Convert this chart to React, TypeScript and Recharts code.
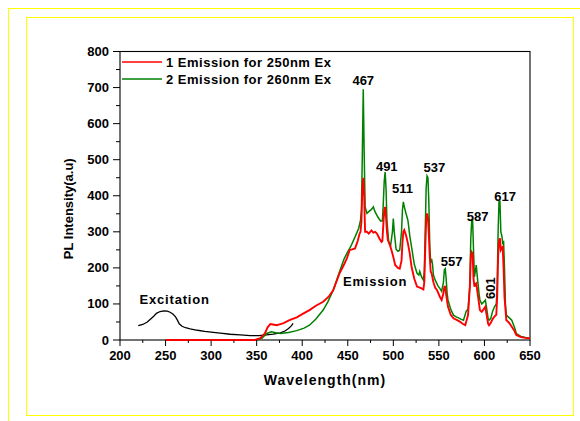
import React from 'react';
import { LineChart, Line, XAxis, YAxis, Legend, ReferenceDot } from 'recharts';

// ---- data ----
const excitationWl = [220, 225, 230, 233, 237, 240, 244, 248, 252, 255, 258, 261, 263, 265, 268, 272, 277, 285, 293, 300, 310, 321, 332, 343, 352, 361, 368, 376, 381, 385, 388, 390];
const excitationI = [40, 43, 50, 57, 66, 74, 79, 81, 80, 77, 72, 64, 55, 45, 38, 34, 31, 27, 24, 22, 19, 16, 14, 12, 12, 14, 16, 20, 25, 32, 39, 46];

const em250Wl = [250, 348, 354, 359, 362, 365, 368, 372, 376, 379, 386, 394, 401, 408, 415, 423, 429, 434, 441, 446, 449, 452, 458, 461, 463, 464, 465, 466, 467, 468, 469, 471, 473, 476, 478, 480, 482, 485, 487, 488, 489, 490, 491, 492, 493, 494, 496, 498, 500, 502, 505, 507, 509, 510, 511, 512, 514, 516, 518, 520, 523, 526, 529, 531, 533, 534, 535, 536, 537, 538, 539, 540, 541, 542, 544, 546, 548, 551, 553, 555, 556, 557, 558, 560, 563, 566, 570, 573, 576, 579, 581, 582, 584, 585, 586, 587, 588, 589, 590, 591, 593, 595, 597, 599, 601, 602, 604, 605, 607, 609, 611, 613, 614, 615, 616, 617, 618, 619, 620, 621, 622, 624, 627, 630, 633, 635, 640, 645, 650];
const em250I = [0, 0, 5, 18, 35, 44, 43, 41, 44, 46, 55, 63, 73, 83, 95, 106, 120, 138, 185, 210, 226, 249, 254, 275, 295, 300, 330, 420, 450, 400, 300, 300, 295, 304, 298, 300, 295, 280, 272, 275, 320, 360, 369, 340, 300, 277, 265, 249, 230, 208, 200, 198, 220, 270, 300, 305, 290, 268, 240, 203, 170, 148, 145, 143, 140, 160, 250, 330, 351, 340, 290, 230, 190, 185, 160, 145, 138, 120, 111, 130, 148, 148, 125, 92, 70, 60, 55, 51, 45, 41, 60, 69, 150, 230, 244, 240, 170, 148, 155, 157, 120, 83, 78, 85, 92, 75, 45, 41, 48, 58, 65, 70, 120, 230, 275, 282, 250, 255, 258, 200, 120, 55, 48, 37, 25, 14, 8, 6, 5];

const em260Wl = [250, 350, 356, 361, 366, 371, 376, 385, 394, 402, 408, 415, 423, 428, 434, 441, 446, 449, 453, 458, 462, 464, 465, 466, 467, 468, 469, 471, 474, 476, 478, 480, 483, 486, 488, 489, 490, 491, 492, 493, 495, 497, 499, 500, 501, 503, 505, 507, 509, 510, 511, 512, 514, 516, 518, 520, 523, 526, 528, 529, 531, 533, 534, 535, 536, 537, 538, 539, 540, 541, 542, 543, 544, 546, 549, 551, 553, 555, 556, 557, 558, 559, 560, 563, 566, 569, 571, 574, 577, 580, 582, 584, 585, 586, 587, 588, 589, 590, 591, 592, 594, 595, 597, 599, 601, 602, 604, 605, 607, 609, 611, 613, 614, 615, 616, 617, 618, 619, 620, 621, 622, 623, 624, 627, 630, 633, 635, 640, 645, 650];
const em260I = [0, 0, 5, 18, 23, 20, 18, 21, 26, 33, 41, 58, 83, 105, 138, 190, 225, 240, 258, 286, 310, 332, 360, 520, 695, 520, 370, 351, 358, 362, 369, 355, 341, 330, 330, 380, 440, 466, 420, 330, 270, 262, 300, 337, 300, 252, 246, 249, 300, 360, 383, 370, 350, 332, 290, 258, 210, 185, 180, 190, 175, 166, 190, 300, 420, 455, 450, 380, 260, 215, 225, 210, 180, 166, 150, 143, 135, 160, 195, 198, 170, 130, 111, 85, 69, 64, 62, 58, 55, 80, 85, 150, 280, 330, 335, 250, 175, 190, 208, 180, 130, 111, 100, 105, 111, 95, 60, 55, 60, 80, 92, 100, 150, 300, 385, 385, 300, 290, 270, 275, 200, 100, 69, 62, 55, 35, 18, 10, 7, 5];

const xTicks = [200, 225, 250, 275, 300, 325, 350, 375, 400, 425, 450, 475, 500, 525, 550, 575, 600, 625, 650];
const yTicks = [0, 50, 100, 150, 200, 250, 300, 350, 400, 450, 500, 550, 600, 650, 700, 750, 800];

const peakLabels = ['467', '491', '511', '537', '557', '587', '601', '617'];
const peakLabelX = [467, 492.8, 510, 545, 564, 592.6, 607, 622.6];
const peakLabelY = [720, 480, 421, 477, 217, 343, 144, 399];

const noteLabels = ['Excitation', 'Emission'];
const noteX = [260, 480];
const noteY = [112, 163];

const legendNames = ['1 Emission for 250nm Ex', '2 Emission for 260nm Ex'];

const toPts = (wl: number[], v: number[]) => wl.map((w, i) => ({ wl: w, v: v[i] }));
const excitation = toPts(excitationWl, excitationI);
const em250 = toPts(em250Wl, em250I);
const em260 = toPts(em260Wl, em260I);

const FONT = '"Liberation Sans", Arial, sans-serif';
const RED = '#ff0000';
const GREEN = '#008000';

// chart geometry (layout only)
const CW = 580;
const CH = 421;
const M = { top: 51.5, right: 50, bottom: 41, left: 60 };
const Y_AXIS_W = 60;
const X_AXIS_H = 40;
const PLOT = {
  x: M.left + Y_AXIS_W,
  y: M.top,
  w: CW - M.left - Y_AXIS_W - M.right,
  h: CH - M.top - M.bottom - X_AXIS_H,
};

const YTick = (props: any) => {
  const { x, y, payload } = props;
  const major = payload.value % 100 === 0;
  return (
    <g>
      <line x1={x - (major ? 7 : 4)} x2={x} y1={y} y2={y} stroke="#000" strokeWidth={1} />
      {major && (
        <text x={x - 11} y={y + 4.5} textAnchor="end" fontFamily={FONT} fontWeight="bold" fontSize={13} fill="#000">
          {payload.value}
        </text>
      )}
    </g>
  );
};

const XTick = (props: any) => {
  const { x, y, payload } = props;
  const major = payload.value % 50 === 0;
  return (
    <g>
      <line x1={x} x2={x} y1={y} y2={y + (major ? 6 : 3)} stroke="#000" strokeWidth={1} />
      {major && (
        <text x={x} y={y + 20} textAnchor="middle" fontFamily={FONT} fontWeight="bold" fontSize={13} fill="#000">
          {payload.value}
        </text>
      )}
    </g>
  );
};

const LegendBox = () => (
  <svg width={260} height={36}>
    {legendNames.map((n, i) => (
      <g key={n}>
        <line x1={2} x2={42} y1={8 + i * 17} y2={8 + i * 17} stroke={i === 0 ? RED : GREEN} strokeWidth={1.5} />
        <text x={46} y={12.5 + i * 17} fontFamily={FONT} fontWeight="bold" fontSize={13} letterSpacing={0.5} fill="#000">
          {n}
        </text>
      </g>
    ))}
  </svg>
);

const TextShape = (label: string, rotate = false) => (props: any) => {
  const { cx, cy } = props;
  return (
    <text
      x={cx}
      y={cy + 4.5}
      textAnchor="middle"
      fontFamily={FONT}
      fontWeight="bold"
      fontSize={13}
      letterSpacing={label.length > 3 ? 0.8 : 0}
      fill="#000"
      transform={rotate ? `rotate(-90 ${cx} ${cy})` : undefined}
    >
      {label}
    </text>
  );
};

const YTitle = (props: any) => {
  const { viewBox } = props;
  const cx = viewBox.x + 8;
  const cy = viewBox.y + viewBox.height / 2 + 13;
  return (
    <text x={cx} y={cy} transform={`rotate(-90 ${cx} ${cy})`} textAnchor="middle" dominantBaseline="central" fontFamily={FONT} fontWeight="bold" fontSize={13} fill="#000">
      PL Intensity(a.u)
    </text>
  );
};

const XTitle = (props: any) => {
  const { viewBox } = props;
  const cx = viewBox.x + viewBox.width / 2;
  const cy = viewBox.y + 40;
  return (
    <text x={cx} y={cy} textAnchor="middle" dominantBaseline="central" fontFamily={FONT} fontWeight="bold" fontSize={14} letterSpacing={1} fill="#000">
      Wavelength(nm)
    </text>
  );
};

export default function App() {
  return (
    <div style={{ position: 'absolute', left: 0, top: 0, width: CW, height: CH, background: '#fff' }}>
      <div style={{ position: 'absolute', left: 8, top: 8, width: 580, height: 430, borderLeft: '1.5px solid #ffff00', borderTop: '1.5px solid #ffff00' }} />
      <div style={{ position: 'absolute', left: 26, top: 17, width: 546, height: 397, border: '1.5px solid #ffff00' }} />
      <svg style={{ position: 'absolute', left: 0, top: 0 }} width={CW} height={CH}>
        <rect x={PLOT.x} y={PLOT.y} width={PLOT.w} height={PLOT.h} fill="none" stroke="#000" strokeWidth={1.1} />
      </svg>
      <div style={{ position: 'absolute', left: 0, top: 0 }}>
        <LineChart width={CW} height={CH} margin={M}>
          <XAxis
            xAxisId="b"
            dataKey="wl"
            type="number"
            domain={[200, 650]}
            ticks={xTicks}
            interval={0}
            tick={<XTick />}
            tickLine={false}
            tickSize={0}
            tickMargin={0}
            height={X_AXIS_H}
            axisLine={false}
            label={<XTitle />}
          />
          <YAxis
            yAxisId="l"
            type="number"
            domain={[0, 800]}
            ticks={yTicks}
            interval={0}
            tick={<YTick />}
            tickLine={false}
            tickSize={0}
            tickMargin={0}
            width={Y_AXIS_W}
            axisLine={false}
            label={<YTitle />}
          />
          <Legend
            layout="vertical"
            align="center"
            verticalAlign="middle"
            content={<LegendBox />}
            wrapperStyle={{ position: 'absolute', left: 120, top: 54, width: 260, height: 36 }}
          />
          <Line xAxisId="b" yAxisId="l" data={excitation} dataKey="v" stroke="#000" strokeWidth={1.3} dot={false} isAnimationActive={false} legendType="none" />
          <Line xAxisId="b" yAxisId="l" data={em260} dataKey="v" stroke={GREEN} strokeWidth={1.5} dot={false} isAnimationActive={false} />
          <Line xAxisId="b" yAxisId="l" data={em250} dataKey="v" stroke={RED} strokeWidth={1.9} dot={false} isAnimationActive={false} />
          {peakLabels.map((l, i) => (
            <ReferenceDot key={l} xAxisId="b" yAxisId="l" x={peakLabelX[i]} y={peakLabelY[i]} r={0} shape={TextShape(l, l === '601')} />
          ))}
          {noteLabels.map((l, i) => (
            <ReferenceDot key={l} xAxisId="b" yAxisId="l" x={noteX[i]} y={noteY[i]} r={0} shape={TextShape(l)} />
          ))}
        </LineChart>
      </div>
    </div>
  );
}
